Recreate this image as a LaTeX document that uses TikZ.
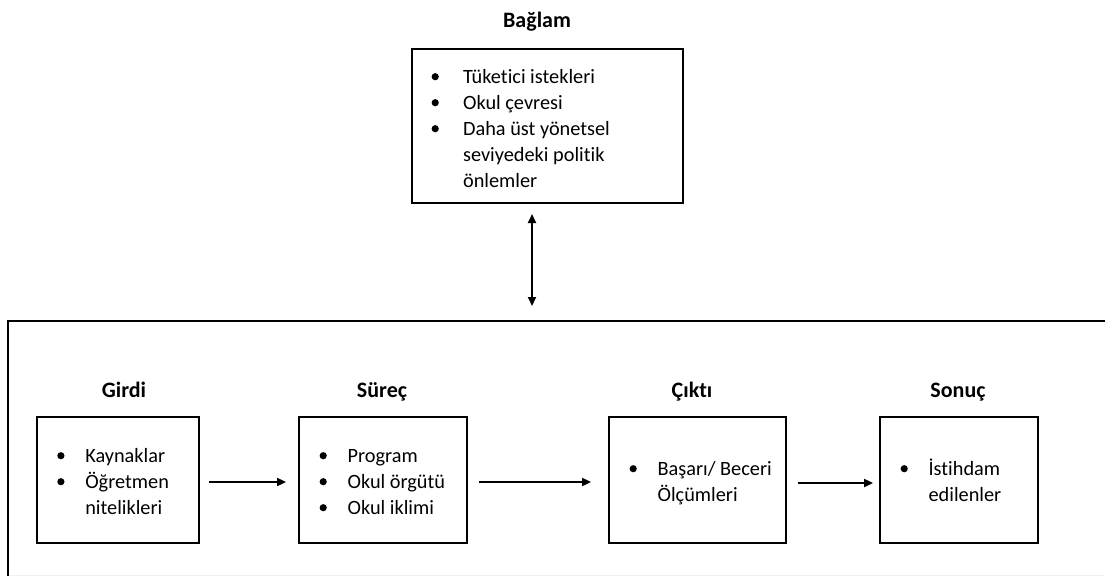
\documentclass[tikz,border=0pt]{standalone}
\usepackage{fontspec}
\setmainfont{Carlito}[Ligatures=NoCommon]
\usetikzlibrary{arrows.meta}
\tikzset{
  box/.style={draw, line width=1.8pt, rectangle, inner sep=0pt},
  title/.style={font=\fontsize{22}{26}\selectfont\bfseries, anchor=base, inner sep=0pt},
  items/.style={anchor=base west, inner sep=0pt, align=left},
  flow/.style={line width=1.8pt, -{Triangle[length=9pt,width=8pt]}},
  both/.style={line width=1.8pt, {Triangle[length=9pt,width=8pt]}-{Triangle[length=9pt,width=8pt]}},
}
% round list bullet followed by the hanging indent
\newcommand{\bul}[1][29pt]{\makebox[#1][l]{\hspace*{1pt}\tikz[baseline=-6.3pt]\fill (0pt,0pt) circle (3.6pt);}}
\begin{document}
\begin{tikzpicture}[x=1pt, y=-1pt, every node/.style={font=\fontsize{20.3}{26}\selectfont}]
\useasboundingbox (0,0) rectangle (1105,576);

% outer frame (open at right)
\draw[line width=1.8pt] (8,576) -- (8,321) -- (1105,321);
\draw[gray!12, line width=0.8pt] (9,575) -- (1105,575);

% context
\node[title] (tctx) at (537,27) {Bağlam};
\node[box, minimum width=271pt, minimum height=154pt] (ctx) at (547.5,126) {};
\node[items] (lctx) at (430.4,83) {\begin{tabular}[t]{@{}l@{}l@{}}
\bul[32.5pt] & Tüketici istekleri\\
\bul[32.5pt] & Okul çevresi\\
\bul[32.5pt] & Daha üst yönetsel\\
     & seviyedeki politik\\
     & önlemler
\end{tabular}};

% four stages
\node[title] (tin)  at (124,397) {Girdi};
\node[title] (tpr)  at (382,397) {Süreç};
\node[title] (tout) at (692,397) {Çıktı};
\node[title] (tres) at (958,397) {Sonuç};

\node[box, minimum width=162pt, minimum height=126pt] (in)  at (118,480) {};
\node[box, minimum width=168pt, minimum height=126pt] (pr)  at (383,480) {};
\node[box, minimum width=177pt, minimum height=126pt] (out) at (697.5,480) {};
\node[box, minimum width=158pt, minimum height=126pt] (res) at (959,480) {};

\node[items] (lin) at (56.1,462) {\begin{tabular}[t]{@{}l@{}l@{}}
\bul & Kaynaklar\\
\bul & Öğretmen\\
     & nitelikleri
\end{tabular}};
\node[items] (lpr) at (318.4,462) {\begin{tabular}[t]{@{}l@{}l@{}}
\bul & Program\\
\bul & Okul örgütü\\
\bul & Okul iklimi
\end{tabular}};
\node[items] (lout) at (628.4,475) {\begin{tabular}[t]{@{}l@{}l@{}}
\bul & Başarı/ Beceri\\
     & Ölçümleri
\end{tabular}};
\node[items] (lres) at (899.4,475) {\begin{tabular}[t]{@{}l@{}l@{}}
\bul & İstihdam\\
     & edilenler
\end{tabular}};

% connectors
\coordinate (frametop) at (532,306);
\draw[both] (532,214) -- (frametop);
\draw[flow] ([xshift=9pt]in.east |- 0,482) -- ([xshift=-12pt]pr.west |- 0,482);
\draw[flow] ([xshift=11pt]pr.east |- 0,482) -- ([xshift=-17pt]out.west |- 0,482);
\draw[flow] ([xshift=11pt]out.east |- 0,483) -- ([xshift=-6pt]res.west |- 0,483);
\end{tikzpicture}
\end{document}
